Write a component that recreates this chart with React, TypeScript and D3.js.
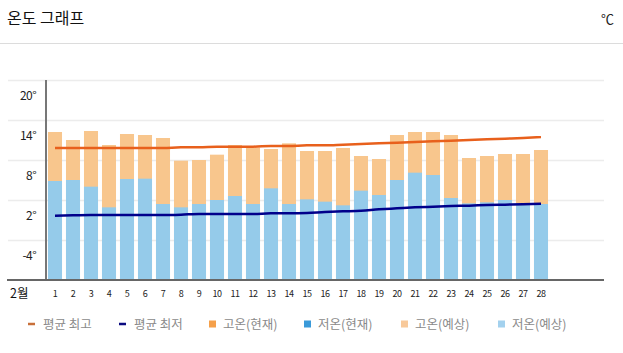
import React from "react";
import * as d3 from "d3";

const days: number[] = d3.range(1, 29);
const highs: number[] = [12.2, 11.0, 12.35, 10.25, 11.9, 11.75, 11.3, 7.9, 8.0, 8.8, 10.25, 9.85, 9.65, 10.5, 9.35, 9.35, 9.8, 8.6, 8.15, 11.75, 12.2, 12.2, 11.75, 8.3, 8.6, 8.9, 8.9, 9.5];
const lows: number[] = [4.85, 5.0, 4.0, 0.9, 5.15, 5.2, 1.4, 0.9, 1.4, 2.0, 2.6, 1.4, 3.75, 1.4, 2.1, 1.75, 1.2, 3.4, 2.75, 5.0, 6.1, 5.75, 2.3, 1.5, 1.65, 2.0, 1.5, 1.4];
const avgHigh: number[] = [9.8, 9.8, 9.8, 9.8, 9.8, 9.8, 9.8, 9.9, 9.9, 10.0, 10.0, 10.0, 10.1, 10.1, 10.2, 10.2, 10.3, 10.4, 10.5, 10.6, 10.7, 10.8, 10.9, 11.0, 11.1, 11.2, 11.3, 11.45];
const avgLow: number[] = [-0.35, -0.3, -0.25, -0.25, -0.25, -0.25, -0.25, -0.2, -0.1, -0.1, -0.1, -0.1, 0.0, 0.0, 0.05, 0.2, 0.3, 0.4, 0.6, 0.75, 0.9, 1.0, 1.1, 1.15, 1.25, 1.3, 1.35, 1.45];
const yTicks: number[] = [20, 14, 8, 2, -4];
const slots: number[] = d3.range(1, 32);
const legendItems = [
  { label: "평균 최고", kind: "line", color: "#c8703a" },
  { label: "평균 최저", kind: "line", color: "#0b0b80" },
  { label: "고온(현재)", kind: "rect", color: "#f5a04a" },
  { label: "저온(현재)", kind: "rect", color: "#3a9ad9" },
  { label: "고온(예상)", kind: "rect", color: "#f8c99a" },
  { label: "저온(예상)", kind: "rect", color: "#a3d1ee" },
];
const legendX: number[] = [26, 117, 209, 304, 401, 498];

export default function App() {
  const W = 623, H = 353;
  const left = 46, right = 604, top = 80, bottom = 280;
  const x = d3.scaleBand<number>().domain(slots).range([left, right]).paddingInner(0.22).paddingOuter(0.11);
  const y = d3.scaleLinear().domain([-10, 20]).range([bottom, top]);
  const cx = (d: number) => (x(d) as number) + x.bandwidth() / 2;
  const lineGen = d3.line<number>().x((_, i) => cx(days[i])).y((v) => y(v)).curve(d3.curveMonotoneX);
  const font = "'Noto Sans CJK KR', 'Noto Sans', sans-serif";

  return (
    <svg width={W} height={H} style={{ position: "absolute", left: 0, top: 0, background: "#fff" }} fontFamily={font}>
      <text x={7} y={24} fontSize={16} fill="#111">온도 그래프</text>
      <text x={614} y={24} fontSize={13} fill="#222" textAnchor="end">℃</text>
      <line x1={0} x2={W} y1={43.5} y2={43.5} stroke="#dcdcdc" />

      {yTicks.map((t) => (
        <g key={t}>
          <line x1={8} x2={right} y1={y(t) + 0.5} y2={y(t) + 0.5} stroke="#ececec" strokeWidth={1.5} />
          <text x={36} y={y(t) + 20} fontSize={12} textAnchor="end" fill="#222" letterSpacing={-0.6}>{t}°</text>
        </g>
      ))}

      {days.map((d, i) => (
        <g key={d}>
          <rect x={x(d)} y={y(highs[i])} width={x.bandwidth()} height={bottom - y(highs[i])} fill="#f8c68d" />
          <rect x={x(d)} y={y(lows[i])} width={x.bandwidth()} height={bottom - y(lows[i])} fill="#95cbea" />
        </g>
      ))}

      <path d={lineGen(avgHigh) || ""} fill="none" stroke="#e8601c" strokeWidth={2.5} />
      <path d={lineGen(avgLow) || ""} fill="none" stroke="#00008b" strokeWidth={2.5} />

      <line x1={left} x2={left} y1={top} y2={bottom} stroke="#777" strokeWidth={2} />
      <line x1={7} x2={right} y1={bottom} y2={bottom} stroke="#666" strokeWidth={2} />

      <text x={10} y={298} fontSize={12.5} fill="#111" fontWeight="normal">2월</text>
      {days.map((d) => (
        <text key={d} x={cx(d)} y={297} fontSize={9} textAnchor="middle" fill="#222" letterSpacing={-0.5}>{d}</text>
      ))}

      {legendItems.map((it, i) => (
        <g key={it.label} transform={`translate(${legendX[i]},324)`}>
          {it.kind === "line" ? (
            <line x1={2} x2={9} y1={0} y2={0} stroke={it.color} strokeWidth={2.5} />
          ) : (
            <rect x={0} y={-3.5} width={7} height={7} fill={it.color} />
          )}
          <text x={it.kind === "line" ? 17 : 14} y={4.5} fontSize={12.5} fill="#8a8a8a">{it.label}</text>
        </g>
      ))}
    </svg>
  );
}
